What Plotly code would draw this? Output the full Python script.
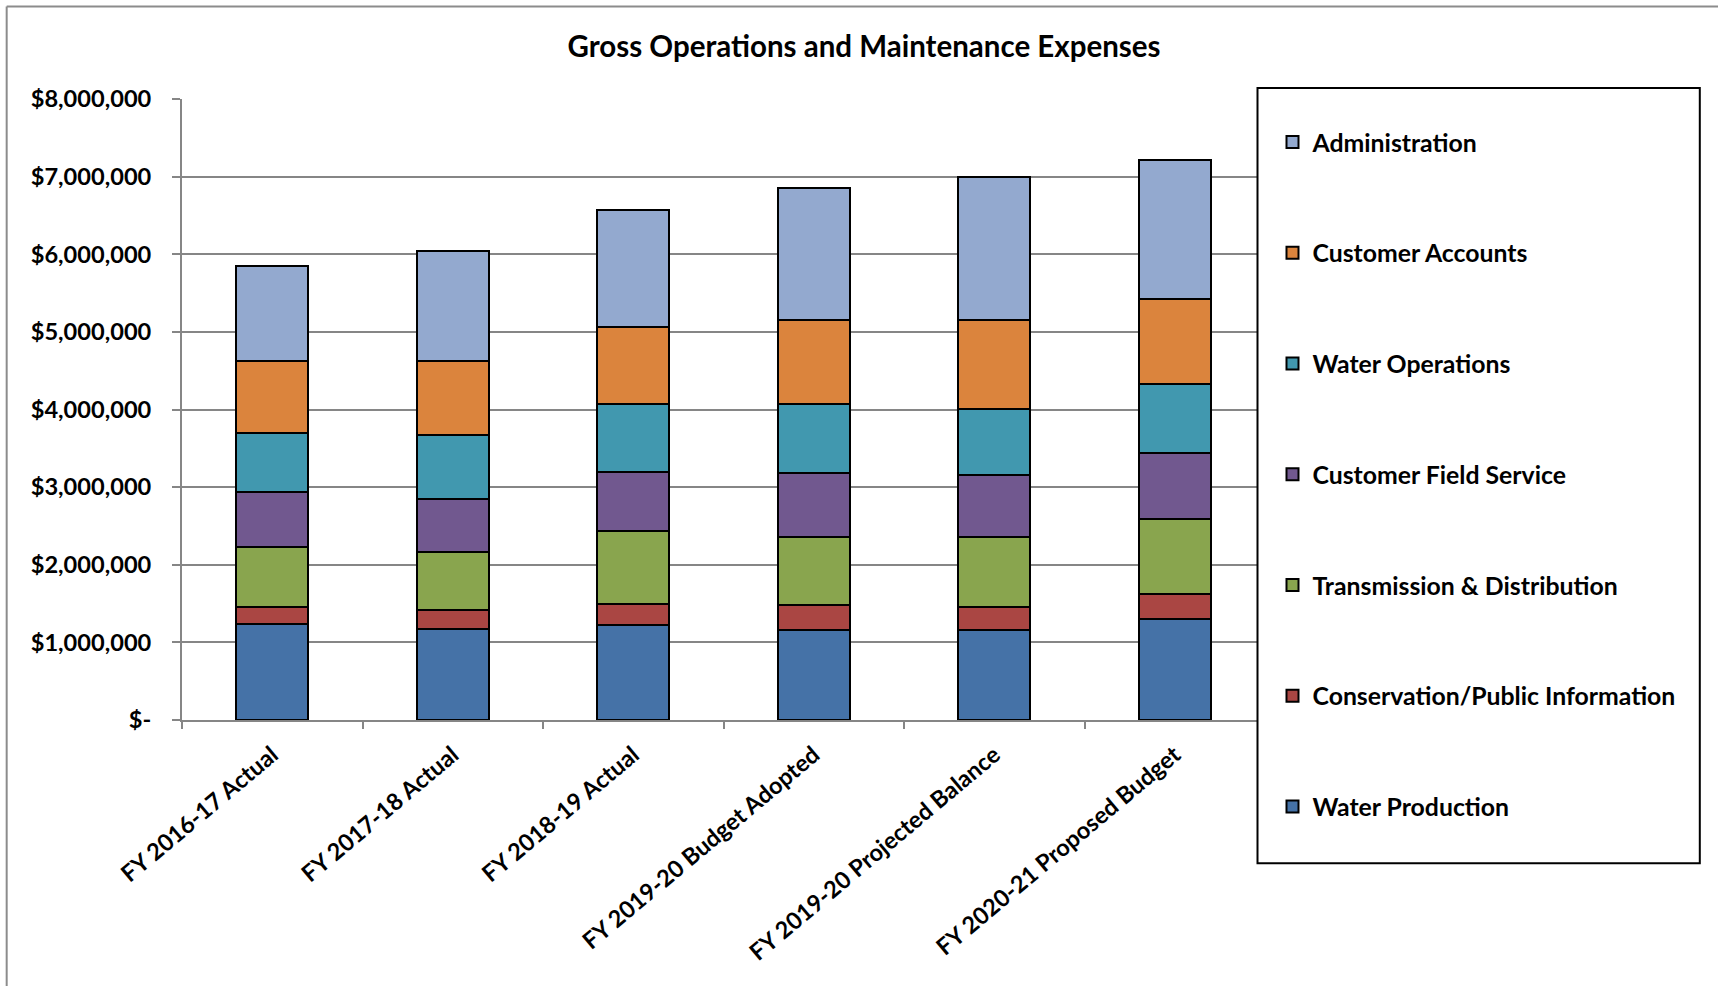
import plotly.graph_objects as go

# Fiscal-year categories
categories = [
    "FY 2016-17 Actual",
    "FY 2017-18 Actual",
    "FY 2018-19 Actual",
    "FY 2019-20 Budget Adopted",
    "FY 2019-20 Projected Balance",
    "FY 2020-21 Proposed Budget",
]

# Expense components by fiscal year (dollars), bottom of stack first
water_production = [1240000, 1171000, 1230000, 1164000, 1159000, 1297000]
conservation_public_info = [212000, 248000, 263000, 316000, 291000, 321000]
transmission_distribution = [783000, 742000, 936000, 883000, 913000, 972000]
customer_field_service = [700000, 682000, 765000, 814000, 794000, 849000]
water_operations = [761000, 834000, 871000, 888000, 849000, 888000]
customer_accounts = [935000, 954000, 1004000, 1090000, 1149000, 1095000]
administration = [1222000, 1410000, 1507000, 1697000, 1845000, 1791000]

series_names = [
    "Water Production",
    "Conservation/Public Information",
    "Transmission & Distribution",
    "Customer Field Service",
    "Water Operations",
    "Customer Accounts",
    "Administration",
]
series_values = [
    water_production,
    conservation_public_info,
    transmission_distribution,
    customer_field_service,
    water_operations,
    customer_accounts,
    administration,
]
series_colors = ["#4572A7", "#AA4643", "#89A54E", "#71588F", "#4198AF", "#DB843D", "#93A9CF"]

# Y-axis ticks
y_tick_values = [0, 1000000, 2000000, 3000000, 4000000, 5000000, 6000000, 7000000, 8000000]
y_tick_labels = ["$-", "$1,000,000", "$2,000,000", "$3,000,000", "$4,000,000",
                 "$5,000,000", "$6,000,000", "$7,000,000", "$8,000,000"]

W, H = 1718, 986
PLOT_L, PLOT_R, PLOT_T, PLOT_B = 182, 1265.5, 98.6, 720
PW, PH = PLOT_R - PLOT_L, PLOT_B - PLOT_T


def px_x(x):
    return (x - PLOT_L) / PW


def px_y(y):
    return (PLOT_B - y) / PH


FONT = "Lato"
fig = go.Figure()
n = len(series_names)
for i, (name, vals, col) in enumerate(zip(series_names, series_values, series_colors)):
    fig.add_trace(go.Bar(
        x=categories, y=vals, name=name, legendgroup=f"g{i}", legendrank=100 + n - i,
        marker=dict(color=col, line=dict(color="black", width=2)),
    ))

grid = "#868686"
fig.update_layout(
    width=W, height=H,
    margin=dict(l=PLOT_L, r=W - PLOT_R, t=PLOT_T, b=H - PLOT_B, autoexpand=False),
    barmode="stack", bargap=0.6,
    paper_bgcolor="white", plot_bgcolor="white",
    font=dict(family=FONT, color="black", size=22, weight=700),
    title=dict(
        text="Gross Operations and Maintenance Expenses",
        x=864 / W, xref="container", xanchor="center",
        y=1 - 47 / H, yref="container", yanchor="middle",
        font=dict(family=FONT, size=29.5, weight=700, color="black"),
    ),
    xaxis=dict(
        type="category", range=[-0.5, 5.5],
        showline=True, linecolor=grid, linewidth=2,
        ticks="outside", tickson="boundaries", ticklen=7, tickcolor=grid, tickwidth=1.5,
        tickangle=-40, tickfont=dict(family=FONT, size=23.5, weight=700, color="black"),
        ticklabelstandoff=10,
        showgrid=False,
    ),
    yaxis=dict(
        range=[0, 8000000], tickvals=y_tick_values, ticktext=y_tick_labels,
        showgrid=True, gridcolor=grid, gridwidth=1.5,
        showline=True, linecolor=grid, linewidth=2, zeroline=False,
        ticks="outside", ticklen=8, tickcolor=grid, tickwidth=1.5,
        tickfont=dict(family=FONT, size=23.6, weight=700, color="black"),
        ticklabelstandoff=16,
    ),
    legend=dict(
        x=px_x(1273), xanchor="left", y=px_y(119), yanchor="top",
        bgcolor="rgba(0,0,0,0)", borderwidth=0,
        traceorder="grouped", tracegroupgap=75.5, maxheight=900,
        font=dict(family=FONT, size=24.8, weight=700, color="black"),
    ),
    showlegend=True,
)

# Legend frame and outer chart frame
fig.add_shape(type="rect", xref="paper", yref="paper",
              x0=px_x(1258), x1=px_x(1700.5), y0=px_y(863.4), y1=px_y(87.7),
              line=dict(color="black", width=2), fillcolor="white", layer="above")
fig.add_shape(type="line", xref="paper", yref="paper",
              x0=px_x(6.6), x1=px_x(1720), y0=px_y(6), y1=px_y(6),
              line=dict(color="#8c8c8c", width=2))
fig.add_shape(type="line", xref="paper", yref="paper",
              x0=px_x(6.6), x1=px_x(6.6), y0=px_y(6), y1=px_y(990),
              line=dict(color="#8c8c8c", width=2))

fig.write_html("out.html")
